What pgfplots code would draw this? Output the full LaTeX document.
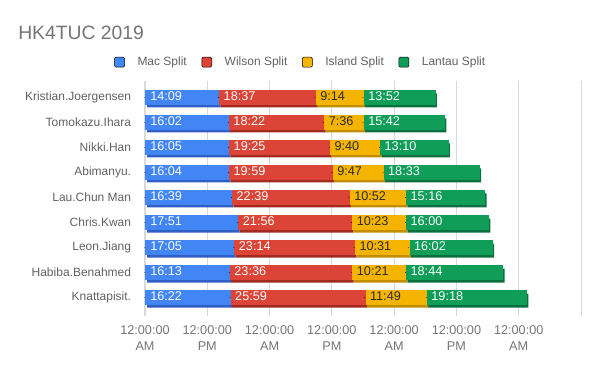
\documentclass[border=0pt]{standalone}
\usepackage{fontspec}
\setmainfont{Liberation Sans}
\usepackage{pgfplots}
\usepackage{pgfplotstable}
\pgfplotsset{compat=1.18}
\definecolor{cmac}{HTML}{4285F4}
\definecolor{cmacD}{HTML}{2F5EC4}
\definecolor{cwil}{HTML}{DB4437}
\definecolor{cwilD}{HTML}{A32A20}
\definecolor{cisl}{HTML}{F4B400}
\definecolor{cislD}{HTML}{C28E00}
\definecolor{clan}{HTML}{0F9D58}
\definecolor{clanD}{HTML}{0A7040}
\definecolor{cText}{HTML}{616161}
\definecolor{cTitle}{HTML}{757575}
\definecolor{cGrid}{HTML}{D9D9D9}
\definecolor{cDark}{HTML}{2B2B2B}

\pgfplotstableread{
idx mac wil isl lan macL wilL islL lanL
0 14.1500 18.6167 9.2333 13.8667 14:09 18:37 9:14 13:52
1 16.0333 18.3667 7.6000 15.7000 16:02 18:22 7:36 15:42
2 16.0833 19.4167 9.6667 13.1667 16:05 19:25 9:40 13:10
3 16.0667 19.9833 9.7833 18.5500 16:04 19:59 9:47 18:33
4 16.6500 22.6500 10.8667 15.2667 16:39 22:39 10:52 15:16
5 17.8500 21.9333 10.3833 16.0000 17:51 21:56 10:23 16:00
6 17.0833 23.2333 10.5167 16.0333 17:05 23:14 10:31 16:02
7 16.2167 23.6000 10.3500 18.7333 16:13 23:36 10:21 18:44
8 16.3667 25.9833 11.8167 19.3000 16:22 25:59 11:49 19:18
}\splits

\pgfplotsset{
  frame/.style={at={(108.75pt,45.75pt)}, anchor=south west,
    scale only axis, width=327pt, height=166.875pt,
    xmin=0, xmax=84, ymin=-0.4, ymax=8.5, y dir=reverse},
  lbl/.style={only marks, mark=*, mark size=0.01pt, mark options={draw=none, fill=none},
    nodes near coords, point meta=explicit symbolic,
    every node near coord/.style={anchor=west, inner sep=0pt, xshift=3.75pt, yshift=1pt,
      font=\fontsize{9.5}{11}\selectfont, text=#1}},
  shd/.style={fill=#1, draw=none, forget plot, transform canvas={shift={(1.5pt,-2.25pt)}}},
}

\begin{document}
\begin{tikzpicture}[x=1pt,y=1pt]
\path[use as bounding box] (0,0) rectangle (450,278.25);
\node[anchor=base west, inner sep=0pt, font=\fontsize{14.5}{17}\selectfont, text=cTitle] at (13.5,248.25) {HK4TUC 2019};
\begin{axis}[frame,
  xbar stacked, bar width=10.5pt,
  axis line style={draw=none},
  xmajorgrids, grid style={cGrid, line width=0.75pt},
  xtick={0,12,...,72},
  xticklabels={{12:00:00\\AM},{12:00:00\\PM},{12:00:00\\AM},{12:00:00\\PM},{12:00:00\\AM},{12:00:00\\PM},{12:00:00\\AM}},
  extra x ticks={84}, extra x tick labels={},
  extra x tick style={grid=major},
  xticklabel style={align=center, font=\fontsize{9.5}{12}\selectfont, text=cTitle, inner sep=2pt, yshift=-5pt},
  xtick style={cGrid, line width=0.75pt},
  tick align=outside, major tick length=4.5pt,
  ytick={0,...,8},
  yticklabels={Kristian.Joergensen,Tomokazu.Ihara,Nikki.Han,Abimanyu.,Lau.Chun Man,Chris.Kwan,Leon.Jiang,Habiba.Benahmed,Knattapisit.},
  yticklabel style={font=\fontsize{9}{11}\selectfont, text=cText, inner sep=0pt, anchor=east, xshift=-5.75pt},
  ytick style={draw=none},
  legend style={at={(0.358,1)}, anchor=center, yshift=19pt, draw=none, fill=none,
    font=\fontsize{9}{11}\selectfont, text=cText, legend columns=4,
    /tikz/every odd column/.append style={column sep=7.5pt},
    /tikz/every even column/.append style={column sep=9pt}},
  legend image code/.code={\fill[#1, rounded corners=1pt] (0pt,-3.75pt) rectangle (7.5pt,3.75pt);},
]
\addlegendimage{fill=cmac}
\addlegendentry{Mac Split}
\addlegendimage{fill=cwil}
\addlegendentry{Wilson Split}
\addlegendimage{fill=cisl}
\addlegendentry{Island Split}
\addlegendimage{fill=clan}
\addlegendentry{Lantau Split}

\addplot[shd=cmacD] table[x=mac, y=idx] {\splits};
\addplot[shd=cwilD] table[x=wil, y=idx] {\splits};
\addplot[shd=cislD] table[x=isl, y=idx] {\splits};
\addplot[shd=clanD] table[x=lan, y=idx] {\splits};
\end{axis}
\begin{axis}[frame, hide axis, xbar stacked, bar width=10.5pt]
\addplot[fill=cmac, draw=cmac, line width=0.4pt] table[x=mac, y=idx] {\splits};
\addplot[fill=cwil, draw=cwil, line width=0.4pt] table[x=wil, y=idx] {\splits};
\addplot[fill=cisl, draw=cisl, line width=0.4pt] table[x=isl, y=idx] {\splits};
\addplot[fill=clan, draw=clan, line width=0.4pt] table[x=lan, y=idx] {\splits};
\end{axis}
\begin{axis}[frame, hide axis, clip=false]
\addplot[lbl=white] table[x expr=0, y=idx, meta=macL] {\splits};
\addplot[lbl=white] table[x expr=\thisrow{mac}, y=idx, meta=wilL] {\splits};
\addplot[lbl=cDark] table[x expr=\thisrow{mac}+\thisrow{wil}, y=idx, meta=islL] {\splits};
\addplot[lbl=white] table[x expr=\thisrow{mac}+\thisrow{wil}+\thisrow{isl}, y=idx, meta=lanL] {\splits};
\end{axis}
\end{tikzpicture}
\end{document}
